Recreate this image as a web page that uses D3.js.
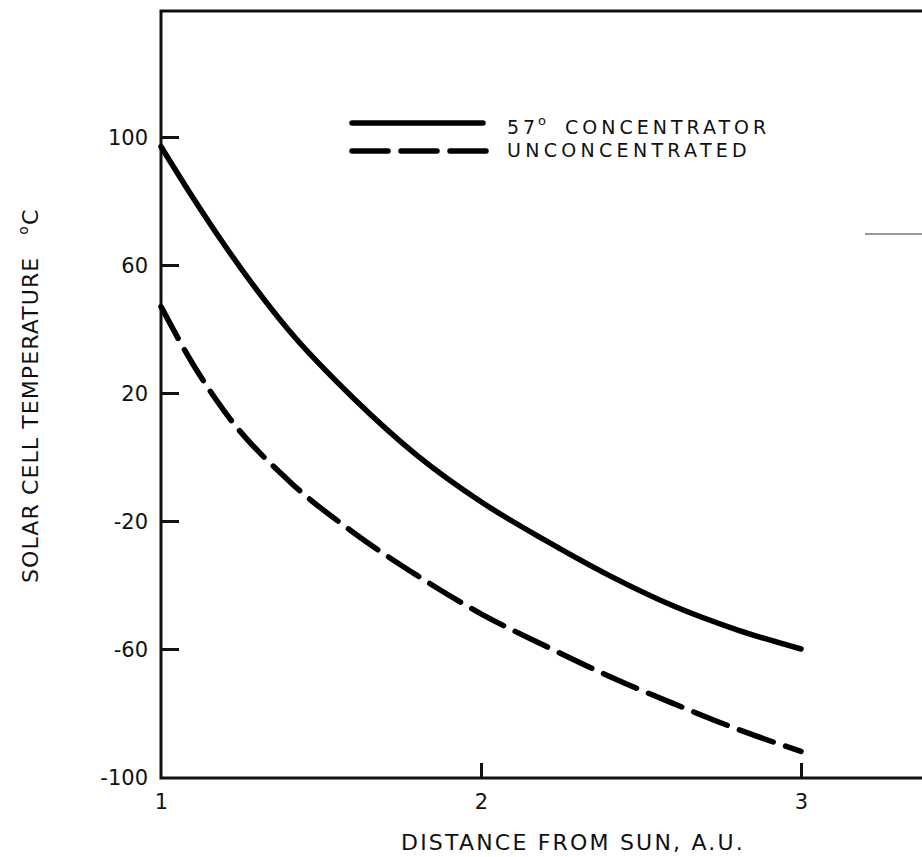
<!DOCTYPE html>
<html>
<head>
<meta charset="utf-8">
<script src="https://cdn.jsdelivr.net/npm/d3@7"></script>
<style>
  body { margin: 0; background: #fff; }
  svg { display: block; }
  text { font-family: "DejaVu Sans", sans-serif; fill: #111; }
  .frame { stroke: #111; stroke-width: 3; fill: none; }
  .tick-line { stroke: #111; stroke-width: 3; }
  .curve { fill: none; stroke: #000; stroke-width: 5.5; stroke-linecap: round; }
  .dashed { stroke-dasharray: 36, 13; }
</style>
</head>
<body>
<div id="chart"></div>
<script>
// distance from sun, A.U.
var distance = [1.0, 1.1, 1.2, 1.4, 1.6, 1.8, 2.0, 2.2, 2.4, 2.6, 2.8, 3.0];
// solar cell temperature, deg C
var concentrator = [97, 81, 66, 39.5, 18.5, 0.5, -14, -26, -37, -46.5, -54, -60];
var unconcentrated = [47, 29, 14, -7.5, -23.5, -37, -49, -59, -68.5, -77, -85, -92];

var yTicks = [-100, -60, -20, 20, 60, 100];
var xTicks = [1, 2, 3];
var legendLabels = ["57", "CONCENTRATOR", "UNCONCENTRATED"];

var width = 922, height = 857;
var margins = {top: 11, left: 161, bottom: 79};

var svg = d3.select("#chart").append("svg")
    .attr("width", width)
    .attr("height", height);

var x = d3.scaleLinear().domain([1, 3]).range([161, 801]);
var y = d3.scaleLinear().domain([-100, 100]).range([777, 137]);

var yBottom = height - margins.bottom;

function renderFrame() {
    svg.append("path")
        .attr("class", "frame")
        .attr("d", "M" + width + "," + margins.top +
                   "H" + margins.left +
                   "V" + yBottom +
                   "H" + width);

    // stray mark from the scan, right side
    svg.append("line")
        .attr("x1", 865).attr("x2", width)
        .attr("y1", 234).attr("y2", 234)
        .attr("stroke", "#777")
        .attr("stroke-width", 1.5);
}

function renderYAxis() {
    var yAxis = d3.axisLeft(y)
        .tickValues(yTicks)
        .tickSize(0)
        .tickPadding(13)
        .tickFormat(function (d) { return d < 0 ? "-" + Math.abs(d) : d; });

    var g = svg.append("g")
        .attr("transform", "translate(" + margins.left + ",0)")
        .call(yAxis);
    g.select(".domain").remove();
    g.selectAll(".tick text")
        .style("font-size", "21px")
        .attr("dy", "0.35em");

    // inward tick marks
    g.selectAll(".tick")
        .filter(function (d) { return d > -100; })
        .append("line")
        .attr("class", "tick-line")
        .attr("x1", 0).attr("x2", 18);
}

function renderXAxis() {
    var xAxis = d3.axisBottom(x)
        .tickValues(xTicks)
        .tickSize(0)
        .tickPadding(16)
        .tickFormat(d3.format("d"));

    var g = svg.append("g")
        .attr("transform", "translate(0," + yBottom + ")")
        .call(xAxis);
    g.select(".domain").remove();
    g.selectAll(".tick text")
        .style("font-size", "21px");

    g.selectAll(".tick")
        .filter(function (d) { return d > 1; })
        .append("line")
        .attr("class", "tick-line")
        .attr("y1", 0).attr("y2", -15);
}

function renderTitles() {
    svg.append("text")
        .attr("x", 573)
        .attr("y", 850)
        .attr("text-anchor", "middle")
        .style("font-size", "22px")
        .style("letter-spacing", "2.2px")
        .text("DISTANCE FROM SUN, A.U.");

    var t = svg.append("text")
        .attr("transform", "translate(38,583) rotate(-90)")
        .style("font-size", "22px")
        .style("letter-spacing", "1.1px");
    t.append("tspan").text("SOLAR CELL TEMPERATURE");
    t.append("tspan")
        .attr("dx", 22)
        .attr("dy", -10)
        .style("font-size", "14px")
        .text("o");
    t.append("tspan")
        .attr("dy", 10)
        .text("C");
}

function renderCurves() {
    var line = d3.line()
        .x(function (d) { return x(d[0]); })
        .y(function (d) { return y(d[1]); })
        .curve(d3.curveMonotoneX);

    svg.append("path")
        .attr("class", "curve")
        .attr("d", line(d3.zip(distance, concentrator)));

    svg.append("path")
        .attr("class", "curve dashed")
        .attr("d", line(d3.zip(distance, unconcentrated)));
}

function renderLegend() {
    var g = svg.append("g");

    g.append("line")
        .attr("class", "curve")
        .attr("x1", 352).attr("x2", 483)
        .attr("y1", 123).attr("y2", 123);

    g.append("line")
        .attr("class", "curve")
        .style("stroke-dasharray", "36,13")
        .attr("x1", 352).attr("x2", 487)
        .attr("y1", 151).attr("y2", 151);

    var t1 = g.append("text")
        .attr("y", 134)
        .style("font-size", "19px")
        .style("letter-spacing", "4px");
    t1.append("tspan").attr("x", 507).text(legendLabels[0]);
    t1.append("tspan")
        .attr("x", 538)
        .attr("dy", -9)
        .style("font-size", "13px")
        .text("o");
    t1.append("tspan")
        .attr("x", 565)
        .attr("dy", 9)
        .text(legendLabels[1]);

    g.append("text")
        .attr("x", 507).attr("y", 157)
        .style("font-size", "19px")
        .style("letter-spacing", "4.3px")
        .text(legendLabels[2]);
}

renderFrame();
renderYAxis();
renderXAxis();
renderCurves();
renderLegend();
renderTitles();
</script>
</body>
</html>
